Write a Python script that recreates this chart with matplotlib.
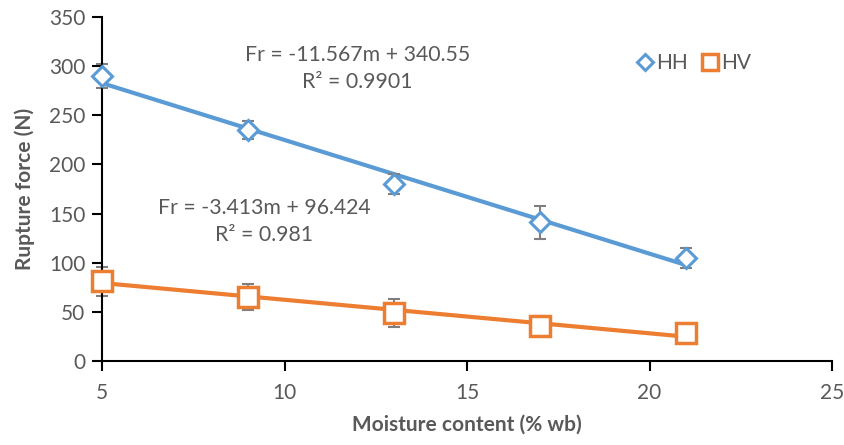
import numpy as np
import matplotlib.pyplot as plt

plt.rcParams['font.family'] = ['Lato', 'DejaVu Sans']

# Data
moisture = [5, 9, 13, 17, 21]
hh_force = [290, 235, 180, 141, 105]
hh_err = [12, 9, 10, 17, 10]
hv_force = [81, 65, 49, 36, 28]
hv_err = [15, 13, 14, 10, 3]

# Trendline coefficients (from the chart labels)
hh_slope, hh_icpt = -11.567, 340.55
hv_slope, hv_icpt = -3.413, 96.424

blue = '#5B9BD5'
orange = '#ED7D31'
grey = '#595959'
errc = '#7F7F7F'

fig = plt.figure(figsize=(8.44, 4.45), dpi=100)
ax = fig.add_axes([102 / 844, 1 - 361 / 445, 730 / 844, 344 / 445])

x = np.array(moisture)
ax.plot(x, hh_slope * x + hh_icpt, color=blue, lw=3, zorder=2)
ax.plot(x, hv_slope * x + hv_icpt, color=orange, lw=3, zorder=2)

for yv, ye in [(hh_force, hh_err), (hv_force, hv_err)]:
    eb = ax.errorbar(moisture, yv, yerr=ye, fmt='none', ecolor=errc,
                     elinewidth=1.5, capsize=4, capthick=1.5, zorder=3)
    for art in eb.lines[1] + eb.lines[2]:
        art.set_clip_on(False)

ax.plot(moisture, hh_force, ls='none', marker='D', ms=10, mfc='white',
        mec=blue, mew=2.2, label='HH', zorder=6, clip_on=False)
ax.plot(moisture, hv_force, ls='none', marker='s', ms=15, mfc='white',
        mec=orange, mew=2.5, label='HV', zorder=6, clip_on=False)

ax.set_xlim(5, 25)
ax.set_ylim(0, 350)
ax.set_xticks([5, 10, 15, 20, 25])
ax.set_yticks(range(0, 351, 50))

for s in ['top', 'right']:
    ax.spines[s].set_visible(False)
for s in ['left', 'bottom']:
    ax.spines[s].set_linewidth(1.5)
    ax.spines[s].set_color('black')
    ax.spines[s].set_zorder(5)

ax.tick_params(direction='out', length=7, width=1.5, colors='black',
               labelcolor=grey, labelsize=15)
ax.tick_params(axis='x', pad=9)
ax.tick_params(axis='y', pad=5)

ax.set_xlabel('Moisture content (% wb)', fontsize=15, fontweight='bold',
              color=grey, labelpad=8)
ax.set_ylabel('Rupture force (N)', fontsize=15, fontweight='bold',
              color=grey, labelpad=10)

ax.text(0.35, 0.85, 'Fr = -11.567m + 340.55\nR² = 0.9901', transform=ax.transAxes,
        ha='center', va='center', fontsize=15.3, color=grey, linespacing=1.45)
ax.text(0.222, 0.405, 'Fr = -3.413m + 96.424\nR² = 0.981', transform=ax.transAxes,
        ha='center', va='center', fontsize=15.3, color=grey, linespacing=1.45)

ax.legend(loc='upper left', bbox_to_anchor=(0.71, 0.95), ncol=2, frameon=False,
          fontsize=15, labelcolor=grey, handlelength=0.6, handletextpad=0.2,
          columnspacing=0.8, markerscale=0.8)

fig.savefig('out.png', dpi=100)
